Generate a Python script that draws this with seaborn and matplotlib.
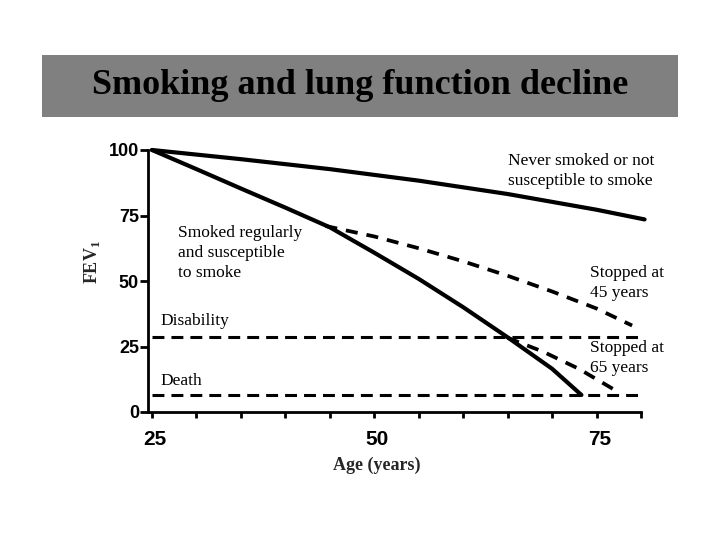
import matplotlib
matplotlib.use("Agg")
import matplotlib.pyplot as plt
import matplotlib.transforms as mtransforms
from matplotlib.patches import Rectangle
from matplotlib.ticker import FixedLocator
import seaborn as sns

# ---- dados (idade em anos, VEF1 em % do valor aos 25) ----
idade_nunca = [25, 35, 45, 55, 65, 75, 80.4]
fev_nunca = [100, 96.5, 92.7, 88.3, 83.2, 77.2, 73.5]

idade_fumante = [25, 30, 35, 40, 45, 50, 55, 60, 65, 70, 73.3]
fev_fumante = [100, 92.7, 85.3, 78, 70.5, 60.8, 50.8, 40, 28.5, 16.5, 6.5]

idade_parou45 = [44.5, 50, 55, 60, 65, 70, 75, 79]
fev_parou45 = [71, 67, 62.5, 57.5, 52, 46, 39.5, 33]

idade_parou65 = [65, 69, 73, 77]
fev_parou65 = [28.3, 23, 16.5, 8.5]

idade_limiar = [25, 80.2]
fev_incapacidade = [28.6, 28.6]
fev_morte = [6.5, 6.5]

ticks_y = [0, 25, 50, 75, 100]
ticks_x = [25, 50, 75]
ticks_x_menores = [30, 35, 40, 45, 55, 60, 65, 70, 80]

sns.set_theme(style="white")
plt.rcParams['font.family'] = ['Liberation Serif', 'DejaVu Serif']
plt.rcParams['mathtext.fontset'] = 'custom'
plt.rcParams['mathtext.rm'] = 'Liberation Serif:bold'

fig = plt.figure(figsize=(7.2, 5.4), dpi=100)

# caixa cinzenta do título
fig.patches.append(Rectangle((42 / 720, 1 - 117 / 540), 636 / 720, 62 / 540,
                             transform=fig.transFigure, facecolor='#808080',
                             edgecolor='none', zorder=0))
fig.text(0.5, 1 - 85 / 540, 'Smoking and lung function decline', ha='center',
         va='center', fontsize=26, fontweight='bold', color='black')

ax = fig.add_axes([148 / 720, 1 - 412 / 540, 493 / 720, 262 / 540])
ax.set_facecolor('white')

preto = 'black'
sns.lineplot(x=idade_nunca, y=fev_nunca, ax=ax, color=preto, lw=3, clip_on=False)
sns.lineplot(x=idade_fumante, y=fev_fumante, ax=ax, color=preto, lw=3, clip_on=False)

sns.lineplot(x=idade_parou45, y=fev_parou45, ax=ax, color=preto, lw=2.7, clip_on=False)
ax.lines[-1].set_dashes((3.2, 2.4))
sns.lineplot(x=idade_parou65, y=fev_parou65, ax=ax, color=preto, lw=2.7, clip_on=False)
ax.lines[-1].set_dashes((3.2, 2.4))

sns.lineplot(x=idade_limiar, y=fev_incapacidade, ax=ax, color=preto, lw=2.2, clip_on=False)
ax.lines[-1].set_dashes((3.9, 2.3))
sns.lineplot(x=idade_limiar, y=fev_morte, ax=ax, color=preto, lw=2.2, clip_on=False)
ax.lines[-1].set_dashes((3.9, 2.3))

ax.set_xlim(24.55, 80)
ax.set_ylim(0, 100)

for lado in ['top', 'right']:
    ax.spines[lado].set_visible(False)
for lado in ['left', 'bottom']:
    ax.spines[lado].set_linewidth(2)
    ax.spines[lado].set_color(preto)

ax.set_yticks(ticks_y)
ax.set_yticklabels([str(v) for v in ticks_y])
ax.set_xticks(ticks_x)
ax.set_xticklabels([str(v) for v in ticks_x])
ax.xaxis.set_minor_locator(FixedLocator(ticks_x_menores))

ax.tick_params(axis='y', which='major', direction='out', length=6, width=2,
               color=preto, pad=0.5, left=True, labelsize=13, labelcolor=preto)
ax.tick_params(axis='x', which='both', direction='out', length=4, width=2,
               color=preto, pad=9, bottom=True, labelsize=15, labelcolor=preto)
for rotulo in ax.get_yticklabels() + ax.get_xticklabels():
    rotulo.set_family(['Liberation Sans', 'DejaVu Sans'])
    rotulo.set_fontweight('bold')
desloc = mtransforms.ScaledTranslation(3 / 100, 0, fig.dpi_scale_trans)
for rotulo in ax.get_xticklabels():
    rotulo.set_transform(rotulo.get_transform() + desloc)

ax.text(-0.1136, 0.5725, 'FEV$_1$', transform=ax.transAxes, rotation=90,
        ha='center', va='center', fontsize=13, fontweight='bold')
ax.text(0.4645, -0.2023, 'Age (years)', transform=ax.transAxes,
        ha='center', va='center', fontsize=13, fontweight='bold')

# anotações
estilo = dict(fontsize=12.5, ha='left', va='center', linespacing=1.3, color=preto)
ax.text(65.05, 92.0, 'Never smoked or not\nsusceptible to smoke', **estilo)
ax.text(27.9, 60.7, 'Smoked regularly\nand susceptible\nto smoke', **estilo)
ax.text(74.27, 49.2, 'Stopped at\n45 years', **estilo)
ax.text(26.0, 34.7, 'Disability', **estilo)
ax.text(74.27, 20.6, 'Stopped at\n65 years', **estilo)
ax.text(26.0, 11.8, 'Death', **estilo)

fig.savefig('out.png', dpi=100)
